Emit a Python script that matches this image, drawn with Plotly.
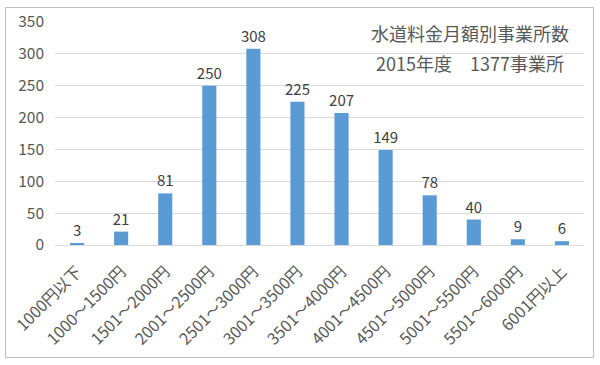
import plotly.graph_objects as go

categories = ["1000円以下", "1000～1500円", "1501～2000円", "2001～2500円", "2501～3000円",
              "3001～3500円", "3501～4000円", "4001～4500円", "4501～5000円", "5001～5500円",
              "5501～6000円", "6001円以上"]
counts = [3, 21, 81, 250, 308, 225, 207, 149, 78, 40, 9, 6]
y_ticks = [0, 50, 100, 150, 200, 250, 300, 350]
title_line1 = "水道料金月額別事業所数"
title_line2 = "2015年度　1377事業所"

W, H = 600, 365
ml, mr, mt, mb = 55, 16, 22, 120
font_family = "Noto Sans CJK JP, Noto Sans, sans-serif"

fig = go.Figure()
fig.add_trace(go.Bar(
    x=categories, y=counts,
    marker=dict(color="#5b9bd5", line=dict(width=0)),
    text=[str(v) for v in counts], textposition="outside",
    textfont=dict(size=15, color="#404040", family=font_family),
    constraintext="none",
    cliponaxis=False,
))

fig.update_layout(
    width=W, height=H,
    margin=dict(l=ml, r=mr, t=mt, b=mb),
    paper_bgcolor="white", plot_bgcolor="white",
    bargap=0.68,
    showlegend=False,
    font=dict(family=font_family, color="#595959"),
    xaxis=dict(tickangle=-45, tickfont=dict(size=16, color="#595959"),
               showline=True, linecolor="#d9d9d9", linewidth=1, ticks="",
               ticklabelstandoff=10, automargin=False),
    yaxis=dict(range=[0, 350], tickvals=y_ticks, tickfont=dict(size=15.5, color="#595959"),
               showgrid=True, gridcolor="#d9d9d9", zeroline=False, ticks="",
               ticklabelstandoff=10, automargin=False),
)

def px_x(p):
    return (p - ml) / (W - ml - mr)

def px_y(p):
    return (H - mb - p) / (H - mt - mb)

# outer border
fig.add_shape(type="rect", xref="paper", yref="paper",
              x0=px_x(5.5), x1=px_x(593.5), y0=px_y(357.5), y1=px_y(7.5),
              line=dict(color="#bfbfbf", width=1), fillcolor="rgba(0,0,0,0)", layer="above")

# white title box covering gridlines
fig.add_shape(type="rect", xref="paper", yref="paper",
              x0=px_x(356), x1=px_x(590), y0=px_y(80), y1=px_y(14),
              line=dict(width=0), fillcolor="white", layer="between")

fig.add_annotation(xref="paper", yref="paper", x=px_x(470), y=px_y(33),
                   xanchor="center", yanchor="middle",
                   text=title_line1, showarrow=False,
                   font=dict(size=18, color="#595959", family=font_family))
fig.add_annotation(xref="paper", yref="paper", x=px_x(470), y=px_y(63),
                   xanchor="center", yanchor="middle",
                   text=title_line2, showarrow=False,
                   font=dict(size=18, color="#595959", family=font_family))

fig.write_html("out.html")
